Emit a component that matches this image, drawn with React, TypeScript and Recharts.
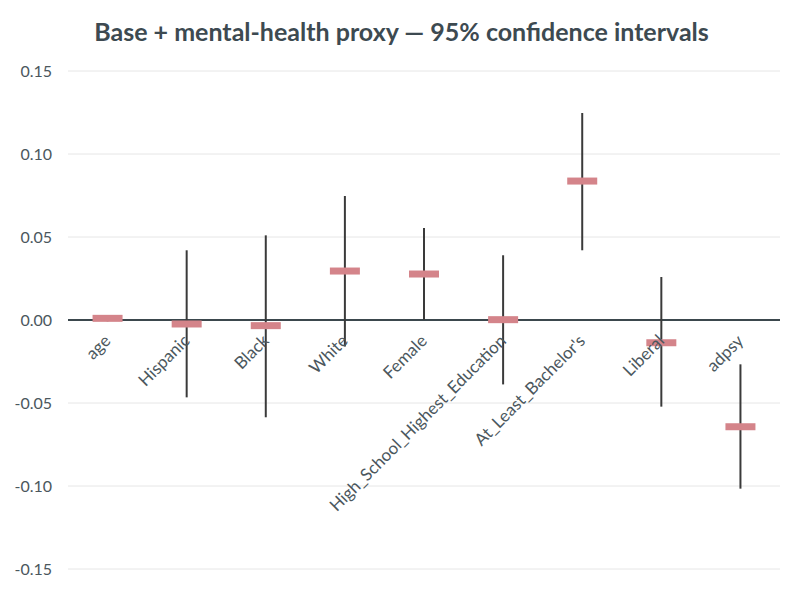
import React from 'react';
import {
  ComposedChart,
  Scatter,
  XAxis,
  YAxis,
  CartesianGrid,
  ReferenceLine,
  ErrorBar,
} from 'recharts';

document.body.style.margin = '0';

const terms = [
  'age',
  'Hispanic',
  'Black',
  'White',
  'Female',
  'High_School_Highest_Education',
  "At_Least_Bachelor's",
  'Liberal',
  'adpsy',
];
const estimates = [0.001, -0.0024, -0.0034, 0.0295, 0.0277, 0.0002, 0.0837, -0.0137, -0.0643];
const lower = [-0.0008, -0.0466, -0.0586, -0.016, 0.0002, -0.0388, 0.042, -0.0522, -0.1016];
const upper = [0.0028, 0.042, 0.051, 0.0747, 0.0554, 0.039, 0.1247, 0.0259, -0.0267];
const yTicks = [-0.15, -0.1, -0.05, 0, 0.05, 0.1, 0.15];

const rows = terms.map((term, i) => ({
  term,
  est: estimates[i],
  err: [estimates[i] - lower[i], upper[i] - estimates[i]],
}));

const textColor = '#4b575d';

const Marker = (props: any) => {
  const { cx, cy } = props;
  return <rect x={cx - 15} y={cy - 3.5} width={30} height={7} fill="#d4848a" />;
};

const TermLabel = (props: any) => {
  const { cx, cy, payload } = props;
  const x = cx + 4;
  const y = cy + 22;
  return (
    <text
      x={x}
      y={y}
      transform={`rotate(-45, ${x}, ${y})`}
      textAnchor="end"
      fontSize={17}
      fontFamily="Lato"
      fill={textColor}
    >
      {payload.term}
    </text>
  );
};

export default function App() {
  return (
    <div style={{ position: 'relative', width: 803, height: 592, background: '#fff' }}>
      <div
        style={{
          position: 'absolute',
          top: 16,
          left: 0,
          width: 803,
          textAlign: 'center',
          fontFamily: 'Lato',
          fontWeight: 700,
          fontSize: 25,
          lineHeight: '30px',
          color: '#3d4a51',
        }}
      >
        Base + mental-health proxy — 95% confidence intervals
      </div>
      <ComposedChart
        width={803}
        height={592}
        data={rows}
        margin={{ top: 71, right: 23, bottom: 23, left: 0 }}
      >
        <CartesianGrid vertical={false} stroke="#e6e6e6" />
        <XAxis dataKey="term" scale="band" hide />
        <YAxis
          width={68}
          domain={[-0.15, 0.15]}
          ticks={yTicks}
          tickFormatter={(v: number) => v.toFixed(2)}
          axisLine={false}
          tickLine={false}
          tickSize={0}
          tickMargin={16}
          tick={{ fontSize: 16, fontFamily: 'Lato', fill: textColor }}
        />
        <ReferenceLine y={0} stroke="#3b474d" strokeWidth={2} />
        <Scatter dataKey="est" shape={Marker} isAnimationActive={false}>
          <ErrorBar
            dataKey="err"
            direction="y"
            width={0}
            stroke="#3a3a3a"
            strokeWidth={2}
            isAnimationActive={false}
          />
        </Scatter>
        <Scatter dataKey={() => 0} shape={TermLabel} isAnimationActive={false} />
      </ComposedChart>
    </div>
  );
}
